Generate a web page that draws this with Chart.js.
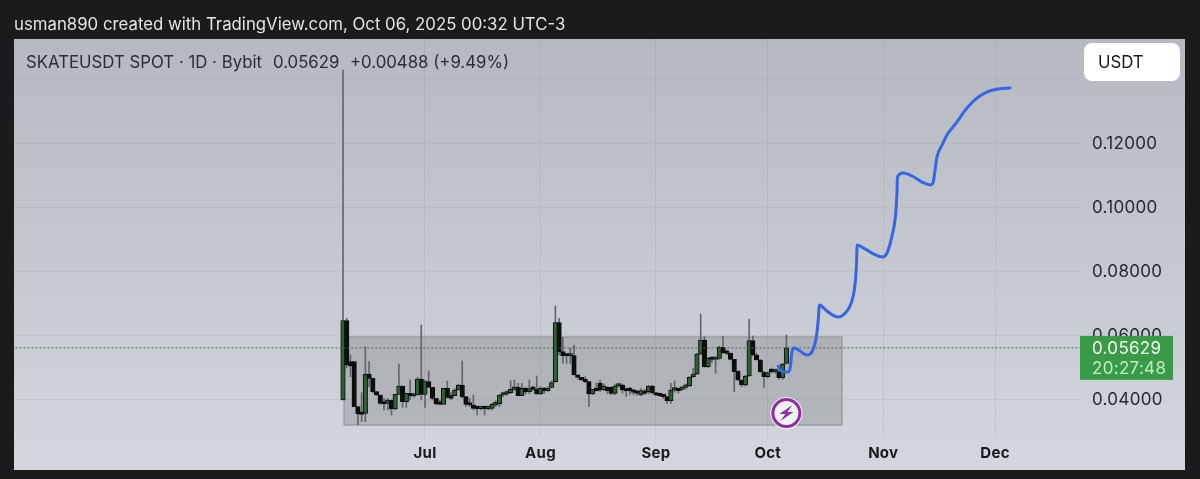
<!DOCTYPE html>
<html>
<head>
<meta charset="utf-8">
<title>SKATEUSDT</title>
<script src="https://cdn.jsdelivr.net/npm/chart.js@4"></script>
<style>
    html, body { margin: 0; padding: 0; background: #1b1b1d; }
    canvas { display: block; }
</style>
</head>
<body>
<canvas id="chart-main" width="1200" height="479"></canvas>
<script>
// candles are one per day, first one is Jun 9 (day -22 counted from Jul 1)
var firstDay = -22;
var opens = [.0400,.06479,.05198,.05198,.03792,.03583,.03583,.04813,.04677,.0426,.04156,.03917,.03896,.04,.03719,.04177,.04438,.03948,.04208,.04125,
    .04156,.04656,.04177,.04573,.04396,.04052,.03896,.03865,.04365,.04135,.04135,.04313,.04469,.04104,.03875,.03844,.0376,.03729,.0376,.03729,
    .0374,.03854,.03875,.04156,.04188,.04229,.04333,.04396,.04135,.04365,.0426,.04375,.04333,.04188,.04365,.04292,.04396,.04573,.06417,.0551,
    .05406,.05375,.05385,.04781,.04708,.04625,.04573,.04188,.04333,.04521,.04313,.04396,.04396,.04208,.04438,.04469,.04333,.04313,.04292,.0426,
    .04156,.0426,.0426,.04438,.04208,.04177,.04156,.04104,.03979,.04313,.04333,.04333,.04396,.04438,.04729,.04813,.05438,.05875,.05042,.05302,
    .05271,.05302,.05646,.0551,.05458,.05271,.04906,.04625,.04469,.0475,.05854,.05406,.0525,.04865,.04729,.04906,.04885,.04885,.04698,.05141];
var highs = [.1431,.06552,.05406,.05198,.03792,.04229,.05667,.05198,.04677,.0426,.04156,.04052,.04052,.04,.04177,.05125,.04438,.04208,.04625,.04198,
    .04708,.06344,.04625,.04906,.04396,.04052,.04,.04365,.04594,.0425,.04365,.045,.05219,.04104,.04052,.04156,.03792,.03792,.03792,.03792,
    .03896,.03979,.04177,.0425,.04292,.04604,.04625,.04521,.04521,.04396,.04625,.04417,.0475,.04417,.04396,.04417,.04604,.06938,.06552,.05958,
    .05458,.05615,.05719,.04781,.04708,.04729,.04573,.04333,.04542,.04625,.045,.04417,.04417,.045,.045,.045,.04375,.04396,.04333,.04292,
    .04354,.04333,.04458,.04458,.04229,.04198,.04177,.04104,.04521,.04594,.04365,.04417,.045,.04729,.05,.05458,.06688,.05979,.05333,.05333,
    .05333,.05688,.05979,.05563,.05479,.05271,.04906,.04625,.04771,.06521,.06,.05458,.05271,.04885,.04875,.05,.04958,.04906,.05146,.06031];
var lows = [.0400,.0500,.04729,.03792,.03219,.03323,.03323,.04417,.04229,.04135,.03865,.03688,.03688,.03531,.03688,.04177,.03771,.03771,.04,.04083,
    .04156,.04,.03771,.04396,.04,.03844,.03854,.03865,.04052,.04,.04135,.04313,.04052,.03792,.03792,.03688,.03531,.03688,.03531,.03688,
    .03688,.03792,.03792,.04104,.04135,.04208,.04292,.04135,.04135,.04188,.04208,.04292,.04177,.04167,.04208,.04271,.04375,.04552,.05406,.05146,
    .05146,.05146,.04781,.04646,.04604,.04542,.03792,.04167,.04271,.0426,.04292,.04188,.04167,.04167,.04396,.04208,.04104,.04156,.04156,.04135,
    .04135,.04177,.04188,.04188,.04125,.04104,.04052,.03896,.03896,.0425,.04208,.04292,.04333,.04417,.04708,.04792,.05417,.05021,.05021,.05167,
    .04833,.05271,.05458,.05417,.0525,.0426,.04604,.04417,.04438,.04729,.05385,.0525,.04865,.04396,.04688,.04833,.04833,.04646,.04646,.05125];
var closes = [.06479,.05094,.05063,.03792,.03563,.03552,.04813,.04677,.0426,.04156,.03896,.03875,.04,.03719,.04177,.04438,.03948,.04208,.04125,.04156,
    .04656,.04177,.04573,.04396,.04052,.03875,.03865,.04365,.04083,.04052,.04313,.04469,.04104,.03865,.03844,.0374,.03729,.0376,.03729,.03771,
    .03875,.03896,.04156,.04188,.04229,.04333,.04396,.04135,.04365,.0425,.04354,.04333,.04188,.04365,.04292,.04375,.04542,.06417,.0551,.05385,
    .05375,.05406,.04781,.04708,.04625,.04573,.04188,.04333,.04292,.04313,.04438,.04292,.04208,.04438,.04469,.04313,.04281,.04292,.0424,.04208,
    .04292,.04208,.04438,.04229,.04156,.04135,.04104,.03969,.04313,.04333,.04292,.04396,.04438,.04708,.04813,.05438,.05875,.05042,.05302,.05271,
    .05302,.05646,.05479,.05458,.05271,.04885,.04625,.04469,.0475,.05854,.05406,.0525,.04885,.04729,.04854,.04885,.04906,.04698,.05125,.05629];

// hand drawn projection
var pathDays = [94.8,95.6,97.4,98,98.5,99.1,100.7,102.3,103.4,104.2,105,105.5,105.9,107.6,109.3,110.9,112.8,114.4,115.4,115.8,116,117.3,120,122.7,124,125.4,126.3,126.7,126.8,128.3,130.7,133.4,135.6,136.4,136.9,137.4,138.8,140.1,142.8,145.5,148.2,150.9,153.8,157];
var pathPrices = [.0506,.04906,.04875,.05,.055,.05625,.0553,.0541,.0544,.0559,.0594,.0644,.0697,.0681,.0666,.0659,.0672,.0703,.0759,.0822,.0884,.0878,.0859,.0847,.0859,.0916,.0978,.1056,.1097,.1109,.11,.1081,.1072,.1081,.1119,.1159,.1197,.1228,.1269,.1313,.1344,.1363,.1372,.1375];

var rangeDays = [-21.7, 111.9];
var rangePrices = [.0322, .0597];
var lastPrice = .05629;

var monthDays = [0, 31, 62, 92, 123, 153];
var monthLabels = ['Jul', 'Aug', 'Sep', 'Oct', 'Nov', 'Dec'];
var priceTicks = [.04, .06, .08, .10, .12, .14];

var bodies = [], wicks = [], bodyColors = [];
for (var i = 0; i < opens.length; i++) {
    bodies.push({ x: firstDay + i, y: [opens[i], closes[i]] });
    wicks.push({ x: firstDay + i, y: [lows[i], highs[i]] });
    bodyColors.push(closes[i] >= opens[i] ? '#2f5f35' : '#0d0f0d');
}
var pathPoints = pathDays.map(function (d, i) { return { x: d, y: pathPrices[i] }; });

var frame = {
    id: 'frame',
    beforeDraw: function (chart) {
        var ctx = chart.ctx;
        ctx.save();
        ctx.fillStyle = '#1b1b1d';
        ctx.fillRect(0, 0, 1200, 479);
        var g = ctx.createLinearGradient(0, 39, 0, 470);
        g.addColorStop(0, '#b5b8c0');
        g.addColorStop(1, '#d3d7dd');
        ctx.fillStyle = g;
        ctx.fillRect(14, 39, 1171, 431);
        ctx.restore();
        // tick labels are spaced a bit wider in the original
        ctx.letterSpacing = '0.3px';
    },
    afterDraw: function (chart) {
        var ctx = chart.ctx;
        ctx.save();
        ctx.textBaseline = 'middle';
        ctx.letterSpacing = '0px';

        ctx.fillStyle = '#e4e4e6';
        ctx.font = '16.8px Inter';
        ctx.fillText('usman890 created with TradingView.com, Oct 06, 2025 00:32 UTC-3', 14, 25);

        ctx.fillStyle = '#2b2e36';
        ctx.fillText('SKATEUSDT SPOT · 1D · Bybit', 26, 63);
        ctx.fillText('0.05629', 273, 63);
        ctx.fillText('+0.00488 (+9.49%)', 350, 63);

        // currency button
        ctx.fillStyle = '#ffffff';
        ctx.beginPath();
        ctx.roundRect(1084, 43, 96, 38, 8);
        ctx.fill();
        ctx.fillStyle = '#17181c';
        ctx.fillText('USDT', 1098, 63);

        // last price tag
        var yLast = chart.scales.y.getPixelForValue(lastPrice);
        ctx.fillStyle = '#3b9a48';
        ctx.fillRect(1080, yLast - 12, 93, 44);
        ctx.letterSpacing = '0.3px';
        ctx.fillStyle = '#f1fbf1';
        ctx.font = '17px Inter';
        ctx.fillText('0.05629', 1092, yLast + 1);
        ctx.fillStyle = '#b9efb9';
        ctx.fillText('20:27:48', 1092, yLast + 21);

        // lightning marker under the last candle
        var mx = chart.scales.x.getPixelForValue(firstDay + opens.length - 1);
        var my = chart.scales.y.getPixelForValue(.0359);
        ctx.beginPath();
        ctx.arc(mx, my, 16, 0, Math.PI * 2);
        ctx.fillStyle = '#f0f1f4';
        ctx.fill();
        ctx.beginPath();
        ctx.arc(mx, my, 13.5, 0, Math.PI * 2);
        ctx.strokeStyle = '#8e2fa0';
        ctx.lineWidth = 3;
        ctx.stroke();
        ctx.fillStyle = '#8e2fa0';
        ctx.beginPath();
        ctx.moveTo(mx + 6, my - 8);
        ctx.lineTo(mx - 7, my + 1);
        ctx.lineTo(mx - 1, my + 1);
        ctx.lineTo(mx - 6, my + 8);
        ctx.lineTo(mx + 7, my - 1);
        ctx.lineTo(mx + 1, my - 1);
        ctx.closePath();
        ctx.fill();
        ctx.restore();
    }
};

var mainChart = new Chart(document.getElementById('chart-main').getContext('2d'), {
    type: 'bar',
    data: {
        datasets: [
            {
                type: 'line',
                order: 1,
                data: pathPoints,
                borderColor: '#3566e4',
                borderWidth: 3,
                cubicInterpolationMode: 'monotone',
                borderCapStyle: 'round',
                pointRadius: 0
            },
            {
                type: 'line',
                order: 2,
                data: [{ x: -111, y: lastPrice }, { x: 176, y: lastPrice }],
                borderColor: '#3f6f4a',
                borderWidth: 1,
                borderDash: [2, 2],
                pointRadius: 0
            },
            {
                order: 3,
                data: bodies,
                backgroundColor: bodyColors,
                borderColor: '#0d0f0d',
                borderWidth: 1,
                borderSkipped: false,
                barThickness: 4.5,
                minBarLength: 2.5,
                grouped: false
            },
            {
                order: 4,
                data: wicks,
                backgroundColor: '#62656c',
                barThickness: 1,
                grouped: false
            },
            {
                type: 'line',
                order: 5,
                data: [
                    { x: rangeDays[0], y: rangePrices[1] },
                    { x: rangeDays[1], y: rangePrices[1] },
                    { x: rangeDays[1], y: rangePrices[0] },
                    { x: rangeDays[0], y: rangePrices[0] },
                    { x: rangeDays[0], y: rangePrices[1] }
                ],
                borderColor: '#9a9ca0',
                borderWidth: 1.5,
                pointRadius: 0
            },
            {
                type: 'line',
                order: 6,
                data: [{ x: rangeDays[0], y: rangePrices[1] }, { x: rangeDays[1], y: rangePrices[1] }],
                borderWidth: 0,
                backgroundColor: 'rgba(95, 95, 98, 0.26)',
                fill: { value: rangePrices[0] },
                pointRadius: 0
            }
        ]
    },
    options: {
        responsive: false,
        animation: false,
        events: [],
        layout: { padding: { left: 14, top: 39, right: 15, bottom: 9 } },
        plugins: { legend: { display: false }, tooltip: { enabled: false } },
        scales: {
            x: {
                type: 'linear',
                offset: false,
                min: -110.3,
                max: 175.8,
                afterBuildTicks: function (axis) {
                    axis.ticks = monthDays.map(function (d) { return { value: d }; });
                },
                afterFit: function (axis) { axis.height = 32; },
                grid: { offset: false, color: 'rgba(140, 145, 155, 0.22)', drawTicks: false },
                border: { display: false },
                ticks: {
                    autoSkip: false,
                    maxRotation: 0,
                    padding: 6,
                    color: '#17181c',
                    font: { family: 'Inter', size: 15, weight: 'bold' },
                    callback: function (value) { return monthLabels[monthDays.indexOf(value)]; }
                }
            },
            y: {
                position: 'right',
                min: .028125,
                max: .15281,
                afterBuildTicks: function (axis) {
                    axis.ticks = priceTicks.map(function (p) { return { value: p }; });
                },
                afterFit: function (axis) { axis.width = 105; },
                grid: { color: 'rgba(140, 145, 155, 0.14)', drawTicks: false },
                border: { display: false },
                ticks: {
                    padding: 12,
                    color: '#262932',
                    font: { family: 'Inter', size: 17 },
                    // .14 sits behind the USDT button
                    callback: function (value) { return value > .13 ? '' : value.toFixed(5); }
                }
            }
        }
    },
    plugins: [frame]
});
</script>
</body>
</html>
